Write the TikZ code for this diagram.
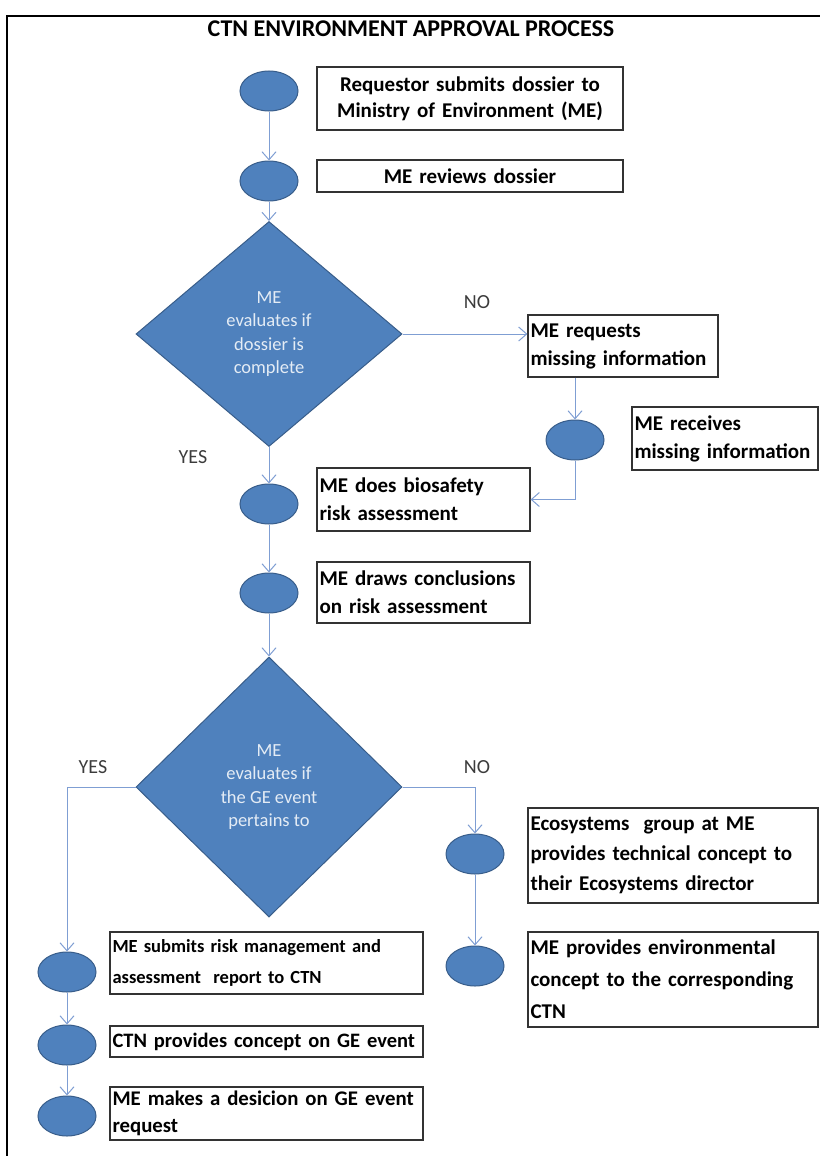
\documentclass[tikz,border=0pt]{standalone}
\usepackage{fontspec}
\setmainfont{Carlito}
\usepackage{xcolor}
\usepackage{tikz}
\usetikzlibrary{arrows.meta,shapes.geometric,positioning}
\definecolor{ovalBlue}{HTML}{4F81BD}
\definecolor{ovalEdge}{HTML}{385D8A}
\definecolor{flowBlue}{HTML}{7F9ED3}
\definecolor{answerGray}{HTML}{3C3C3C}

\begin{document}
\begin{tikzpicture}[x=1pt,y=-1pt,>={Straight Barb[length=8pt,width=14pt]},
  oval/.style={ellipse,draw=ovalEdge,line width=1pt,fill=ovalBlue,minimum width=58pt,minimum height=40pt,inner sep=0pt},
  decide/.style={diamond,draw=ovalEdge,line width=1pt,fill=ovalBlue,inner sep=0pt,minimum width=266pt,text=white!85!ovalBlue,align=center,font=\fontsize{18.5}{23.5}\selectfont},
  textbox/.style={draw=black!80,line width=1.2pt,inner xsep=2.5pt,inner ysep=2pt,align=left,font=\bfseries\fontsize{21}{28}\selectfont},
  flow/.style={->,draw=flowBlue,line width=1pt},
  answer/.style={text=answerGray,font=\fontsize{20}{24}\selectfont}]
\useasboundingbox (0,0) rectangle (820,1156);
\draw[line width=2pt] (7,1156) -- (7,16) -- (820,16);
\node[font=\bfseries\fontsize{24}{28}\selectfont] (title) at (411,29) {CTN ENVIRONMENT APPROVAL PROCESS};

\node[oval] (e1) at (269,91) {};
\node[oval] (e2) at (269,181) {};
\node[decide,minimum height=225pt] (d1) at (269,334) {ME\\evaluates if\\dossier is\\complete};
\node[oval] (e3) at (575,440) {};
\node[oval] (e4) at (269,504) {};
\node[oval] (e5) at (269,593) {};
\node[decide,minimum height=260pt] (d2) at (269,787) {ME\\evaluates if\\the GE event\\pertains to};
\node[oval] (e6) at (67,972) {};
\node[oval] (e7) at (475,854) {};
\node[oval] (e8) at (475,966) {};
\node[oval] (e9) at (67,1045) {};
\node[oval] (e10) at (67,1116) {};

\node[textbox,align=center,text width=301pt,minimum height=63pt,font=\bfseries\fontsize{21}{26}\selectfont] (b1) at (470,98.5) {Requestor submits dossier to\\Ministry of Environment (ME)};
\node[textbox,align=center,text width=301pt,minimum height=32pt] (b2) at (470,176) {ME reviews dossier};
\node[textbox,text width=185pt,minimum height=62pt] (b3) at (623,346) {ME requests\\missing information};
\node[textbox,text width=181pt,minimum height=63pt] (b4) at (725,438.5) {ME receives\\missing information};
\node[textbox,text width=208pt,minimum height=63pt] (b5) at (423.5,499.5) {ME does biosafety\\risk assessment};
\node[textbox,text width=208pt,minimum height=61pt] (b6) at (423.5,592.5) {ME draws conclusions\\on risk assessment};
\node[textbox,text width=285pt,minimum height=95pt,font=\bfseries\fontsize{21}{30}\selectfont] (b7) at (673,855.5) {Ecosystems\ \ group at ME\\provides technical concept to\\their Ecosystems director};
\node[textbox,text width=285pt,minimum height=95pt,font=\bfseries\fontsize{21}{32}\selectfont] (b8) at (673,979.5) {ME provides environmental\\concept to the corresponding\\CTN};
\node[textbox,text width=308pt,minimum height=62pt,font=\bfseries\fontsize{18.5}{31}\selectfont] (b9) at (266.5,963) {ME submits risk management and\\assessment\ \ report to CTN};
\node[textbox,text width=308pt,minimum height=31pt,font=\bfseries\fontsize{20.5}{28}\selectfont] (b10) at (266.5,1041.5) {CTN provides concept on GE event};
\node[textbox,text width=308pt,minimum height=53pt,font=\bfseries\fontsize{20.8}{27}\selectfont] (b11) at (266.5,1113.5) {ME makes a desicion on GE event\\request};

\node[answer] (no1) at (477,302) {NO};
\node[answer] (yes1) at (193,457) {YES};
\node[answer] (yes2) at (93,767) {YES};
\node[answer] (no2) at (477,767) {NO};

\draw[flow] (e1)--(e2);\draw[flow] (e2)--(d1);\draw[flow] (d1)--(e4);\draw[flow] (e4)--(e5);\draw[flow] (e5)--(d2);
\draw[flow] (d1.east)--(d1.east -| b3.west);
\draw[flow] (e3.north |- b3.south)--(e3);
\draw[flow] (e3) |- (b5.east);
\draw[flow] (d2.west) -| (e6.north);
\draw[flow] (d2.east) -| (e7.north);
\draw[flow] (e7)--(e8);\draw[flow] (e6)--(e9);\draw[flow] (e9)--(e10);
\end{tikzpicture}
\end{document}
